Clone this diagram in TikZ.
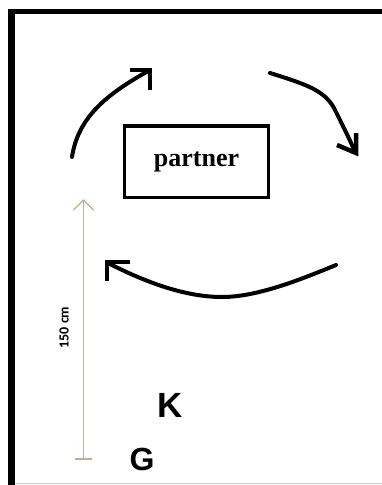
\documentclass[tikz,border=0pt]{standalone}
\usepackage{fontspec}
\setmainfont{Liberation Serif}
\newfontfamily\labelsans{Carlito}
\newfontfamily\lettersans{Liberation Sans}
\begin{document}
\begin{tikzpicture}[x=1pt,y=-1pt,
  stroke/.style={line width=4pt,line cap=round,line join=round},
  barb/.style={line width=4.5pt,line join=miter,line cap=butt},
  measure/.style={draw=measurecol,line width=1.2pt},
  partnerbox/.style={draw,line width=3.3pt,minimum width=144pt,minimum height=71.5pt,
    inner sep=0pt,font=\fontsize{26}{29}\selectfont\bfseries},
  letter/.style={font=\lettersans\bfseries,inner sep=0pt}]
\definecolor{measurecol}{RGB}{196,172,152}
\definecolor{edgegray}{RGB}{205,205,205}
\useasboundingbox (0,0) rectangle (382,485);
\fill[white] (0,0) rectangle (382,485);

% frame: heavy left and top edges, faint bottom edge
\fill[black] (8,9) rectangle (15,485);
\fill[black] (8,9) rectangle (382,13.5);
\draw[edgegray,line width=1.5pt] (15,483.5) -- (382,483.5);

% partner
\node[partnerbox] (partner) at (196.5,161.7) {partner};

% circling arrows
\coordinate (a1s) at (72,157);
\coordinate (a1e) at (150,70);
\draw[stroke] (a1s) .. controls (78,118) and (105,95) .. (a1e);
\draw[barb] (130,70) -- (150,70) -- (150,90);

\coordinate (a2s) at (270,73);
\coordinate (a2m) at (334,108);
\coordinate (a2e) at (355,152);
\draw[stroke] (a2s) .. controls (305,84) and (324,90) .. (a2m)
  .. controls (343,126) and (350,140) .. (a2e);
\draw[barb] (356,133) -- (356,153) -- (337,145);

\coordinate (a3s) at (336,265);
\coordinate (a3m) at (222,297);
\coordinate (a3e) at (108,263);
\draw[stroke] (a3s) .. controls (295,282) and (255,297) .. (a3m)
  .. controls (185,297) and (145,282) .. (a3e);
\draw[barb] (130,262) -- (107,262) -- (107,281);

% 150 cm height scale
\coordinate (mtop) at (83.5,200);
\coordinate (mbot) at (83.5,459);
\draw[measure] (mbot) -- (mtop);
\draw[measure] (73.5,210) -- (mtop) -- (93.5,210);
\draw[measure] (75,459) -- (92,459);
\node[rotate=90,inner sep=0pt,font=\labelsans\bfseries\fontsize{14}{16}\selectfont]
  (mlabel) at (64,327.5) {150 cm};

% positions
\node[letter,font=\lettersans\bfseries\fontsize{35}{38}\selectfont] (K) at (170.5,405.5) {K};
\node[letter,font=\lettersans\bfseries\fontsize{32}{35}\selectfont] (G) at (142,459) {G};
\end{tikzpicture}
\end{document}
